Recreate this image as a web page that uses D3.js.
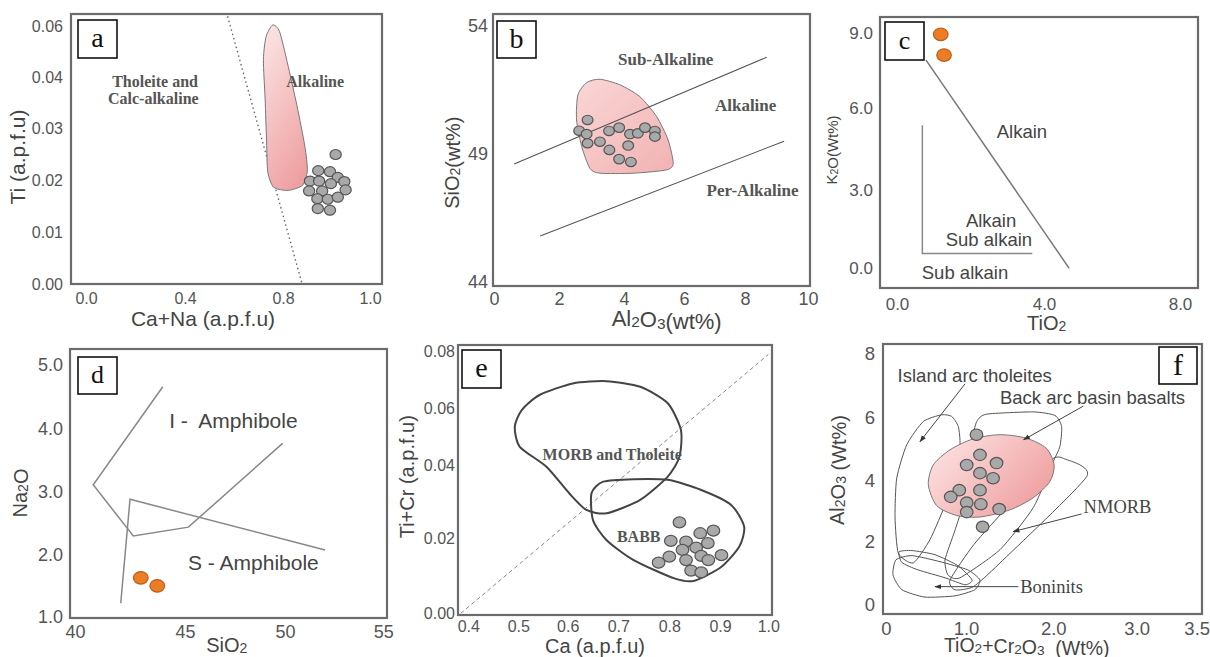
<!DOCTYPE html>
<html><head><meta charset="utf-8">
<script src="https://cdn.jsdelivr.net/npm/d3@7"></script>
<style>body{margin:0;background:#fff} text{white-space:pre}</style>
</head><body>
<script>
// ================= DATA =================
// ---- Panel a : Ti vs Ca+Na ----
const aXTicks=[0,0.4,0.8,1.0], aXLabels=["0.0","0.4","0.8","1.0"];
const aYTicks=[0,0.01,0.02,0.03,0.04,0.05], aYLabels=["0.00","0.01","0.02","0.03","0.04","0.06"];
const aSamples=[[0.921,0.0249],[0.881,0.0218],[0.908,0.0216],[0.862,0.0198],[0.883,0.0198],[0.926,0.0205],[0.910,0.0193],[0.941,0.0197],[0.860,0.0179],[0.890,0.0179],[0.944,0.0181],[0.879,0.0164],[0.903,0.0163],[0.926,0.0167],[0.880,0.0145],[0.908,0.0142]];
const aAlkalineField=[[0.758,0.0502],[0.731,0.0479],[0.720,0.0434],[0.727,0.0357],[0.733,0.0273],[0.738,0.0215],[0.762,0.0186],[0.812,0.0180],[0.845,0.0190],[0.856,0.0218],[0.850,0.0266],[0.832,0.0344],[0.810,0.0428],[0.786,0.0489]];
const aBoundary=[[0.574,0.0519],[0.844,0]];
const aText=[{t:"Tholeite and",x:0.279,y:0.0392},{t:"Calc-alkaline",x:0.272,y:0.0358},{t:"Alkaline",x:0.874,y:0.0391}];

// ---- Panel b : SiO2 vs Al2O3 ----
const bXTicks=[0,2,4,6,8,10], bXLabels=["0","2","4","6","8","10"];
const bYTicks=[44,49,54], bYLabels=["44","49","54"];
const bSamples=[[2.88,50.33],[2.62,49.91],[2.85,49.78],[2.88,49.42],[3.26,49.48],[3.54,49.90],[3.85,50.03],[3.55,49.16],[3.85,48.80],[4.23,48.69],[4.14,49.33],[4.20,49.78],[4.46,49.81],[4.70,50.03],[5.03,49.90],[5.03,49.68]];
const bField=[[2.58,51.30],[2.85,51.79],[3.26,51.92],[3.88,51.70],[4.53,51.24],[5.09,50.46],[5.47,49.55],[5.64,48.64],[5.42,48.38],[4.31,48.25],[3.26,48.25],[2.95,48.44],[2.70,49.29],[2.54,50.33]];
const bUpperLine=[[0.62,48.61],[8.69,52.78]];
const bLowerLine=[[1.42,45.80],[9.24,49.50]];
const bText=[{t:"Sub-Alkaline",x:5.39,y:52.70},{t:"Alkaline",x:8.02,y:50.91},{t:"Per-Alkaline",x:8.24,y:47.59}];

// ---- Panel c : K2O vs TiO2 ----
const cXTicks=[0,4,8], cXLabels=["0.0","4.0","8.0"];
const cYTicks=[0,3,6,9], cYLabels=["0.0","3.0","6.0","9.0"];
const cSamples=[[1.19,8.96],[1.28,8.13]];
const cDiagonal=[[0.79,7.93],[4.74,0.0]];
const cCorner=[[0.69,5.38],[0.69,0.57],[3.68,0.57]];
const cText=[{t:"Alkain",x:3.40,y:5.13},{t:"Alkain",x:2.56,y:1.82},{t:"Sub alkain",x:2.50,y:1.11},{t:"Sub alkain",x:1.85,y:-0.15}];

// ---- Panel d : Na2O vs SiO2 ----
const dXTicks=[40,45,50,55], dXLabels=["40","45","50","55"];
const dYTicks=[1,2,3,4,5], dYLabels=["1.0","2.0","3.0","4.0","5.0"];
const dSamples=[[42.99,1.63],[43.74,1.50]];
const dILine=[[43.99,4.66],[40.83,3.11],[42.65,2.30],[45.17,2.44],[49.88,3.77]];
const dSLine=[[42.08,1.22],[42.50,2.88],[52.04,2.08]];
const dText=[{t:"I -  Amphibole",x:47.42,y:4.13},{t:"S - Amphibole",x:48.42,y:1.88}];

// ---- Panel e : Ti+Cr vs Ca ----
const eXTicks=[0.4,0.5,0.6,0.7,0.8,0.9,1.0], eXLabels=["0.4","0.5","0.6","0.7","0.8","0.9","1.0"];
const eYTicks=[0,0.02,0.04,0.06,0.08], eYLabels=["0.00","0.02","0.04","0.06","0.08"];
const eSamples=[[0.820,0.0244],[0.803,0.0193],[0.833,0.0191],[0.861,0.0214],[0.887,0.0221],[0.876,0.0187],[0.853,0.0175],[0.826,0.0169],[0.800,0.0151],[0.779,0.0135],[0.833,0.0142],[0.863,0.0153],[0.877,0.0142],[0.903,0.0155],[0.843,0.0114],[0.863,0.0109]];
const eMorbField=[[0.493,0.0536],[0.507,0.0594],[0.543,0.0647],[0.610,0.0688],[0.677,0.0696],[0.743,0.0676],[0.797,0.0618],[0.823,0.0524],[0.820,0.0431],[0.797,0.0370],[0.743,0.0306],[0.677,0.0269],[0.637,0.0278],[0.603,0.0324],[0.557,0.0397],[0.503,0.0466]];
const eBabbField=[[0.647,0.0324],[0.670,0.0356],[0.730,0.0363],[0.797,0.0361],[0.863,0.0333],[0.923,0.0292],[0.950,0.0232],[0.940,0.0178],[0.903,0.0124],[0.850,0.0087],[0.810,0.0093],[0.730,0.0142],[0.677,0.0195],[0.650,0.0250]];
const eOneToOne=[[0.385,0.0],[1.0,0.079]];
const eText=[{t:"MORB and Tholeite",x:0.688,y:0.0440},{t:"BABB",x:0.740,y:0.0204}];

// ---- Panel f : Al2O3 vs TiO2+Cr2O3 ----
const fXTicks=[0,1,2,3,3.5], fXLabels=["0","1.0","2.0","3.0","3.5"];
const fYTicks=[0,2,4,6,8], fYLabels=["0","2","4","6","8"];
const fSamples=[[1.12,5.46],[1.16,4.82],[1.008,4.50],[1.35,4.56],[1.16,4.24],[1.31,4.08],[0.916,3.69],[0.809,3.47],[1.16,3.69],[1.008,3.28],[1.17,3.23],[1.38,3.07],[1.008,2.97],[1.19,2.49]];
const fSampleField=[[0.529,3.87],[0.591,4.50],[0.80,4.98],[1.084,5.33],[1.39,5.46],[1.69,5.35],[1.92,5.03],[2.01,4.50],[1.96,3.97],[1.77,3.44],[1.50,3.04],[1.16,2.81],[0.884,2.86],[0.634,3.18]];
const fIatField=[[0.341,1.33],[0.154,1.64],[0.113,2.81],[0.134,4.08],[0.259,5.14],[0.466,5.88],[0.696,6.09],[0.821,6.04],[0.904,5.72],[0.925,5.14],[0.863,4.29],[0.759,3.34],[0.55,2.07]];
const fBabbField=[[1.123,5.88],[1.237,6.11],[1.771,6.18],[2.02,6.07],[2.10,5.72],[2.08,5.09],[2.00,4.61],[1.771,3.12],[1.39,1.75],[0.925,0.86],[0.775,0.95],[0.738,1.43],[0.863,2.38],[1.046,3.97],[1.069,5.24]];
const fNmorbField=[[2.00,4.71],[2.12,4.71],[2.40,4.13],[1.39,1.33],[1.084,0.58],[0.863,0.48],[0.80,0.79],[1.09,1.91],[1.49,3.18],[1.84,4.13]];
const fBoniniteField=[[0.125,1.43],[0.0875,0.95],[0.20,0.48],[0.4875,0.25],[0.8625,0.29],[1.10,0.48],[1.16,0.79],[1.02,1.11],[0.675,1.37],[0.325,1.56]];
const fBoniniteField2=[[0.1625,1.68],[0.325,1.72],[0.6125,1.59],[0.90,1.24],[1.07,0.79],[0.9875,0.64],[0.7375,0.86],[0.40,1.11],[0.20,1.34]];
const fArrows=[[[0.9875,7.05],[0.425,5.24]],[[2.36,6.36],[1.66,5.30]],[[2.34,2.91],[1.54,2.33]],[[1.60,0.58],[0.6125,0.58]]];
const fText=[{t:"Island arc tholeites",x:1.10,y:7.31,serif:false},{t:"Back arc basin basalts",x:2.47,y:6.64,serif:false},{t:"NMORB",x:2.77,y:3.16,serif:true},{t:"Boninits",x:1.98,y:0.58,serif:true}];

// ================= DRAWING =================
const SANS="'Liberation Sans', Arial, sans-serif";
const SERIF="'Liberation Serif', 'Times New Roman', serif";
const svg=d3.select("body").append("svg").attr("width",1210).attr("height",657);
const defs=svg.append("defs");
function grad(id,x1,y1,x2,y2,c1,c2){
  const g=defs.append("linearGradient").attr("id",id).attr("x1",x1).attr("y1",y1).attr("x2",x2).attr("y2",y2);
  g.append("stop").attr("offset","0%").attr("stop-color",c1);
  g.append("stop").attr("offset","100%").attr("stop-color",c2);
}
grad("gA",0.3,0,0.7,1,"#fbe0e0","#ee9fa0");
grad("gB",0,0,1,1,"#fad6d6","#f2b2b2");
grad("gF",0,0.2,1,0.8,"#fde2e2","#ee9a9b");
defs.append("marker").attr("id","arr").attr("viewBox","0 0 10 10").attr("refX",9).attr("refY",5)
  .attr("markerWidth",7).attr("markerHeight",7).attr("orient","auto")
  .append("path").attr("d","M0,1.5L10,5L0,8.5Z").attr("fill","#333");

function richText(sel,str){
  // '_' marks a subscript digit
  const parts=str.split(/(_\d)/).filter(s=>s.length);
  parts.forEach(p=>{
    if(p[0]==="_"){ sel.append("tspan").attr("font-size","70%").attr("dy","0.08em").text(p[1]);
      sel.append("tspan").attr("dy","-0.056em").text(""); }
    else sel.append("tspan").text(p);
  });
}

function panel(c){
  const g=svg.append("g");
  const x=d3.scaleLinear().domain(c.xTicks).range(c.xPx);
  const y=d3.scaleLinear().domain(c.yTicks).range(c.yPx);
  const [fx0,fy0,fx1,fy1]=c.frame;
  g.append("rect").attr("x",fx0).attr("y",fy0).attr("width",fx1-fx0).attr("height",fy1-fy0)
    .attr("fill","none").attr("stroke","#6b6b6b").attr("stroke-width",2.2);
  const xa=d3.axisBottom(x).tickValues(c.xTicks).tickFormat((d,i)=>c.xLabels[i]).tickSize(0).tickPadding(c.xPad);
  const ya=d3.axisLeft(y).tickValues(c.yTicks).tickFormat((d,i)=>c.yLabels[i]).tickSize(0).tickPadding(c.yPad);
  [[xa,`translate(0,${fy1})`],[ya,`translate(${fx0},0)`]].forEach(([ax,tr])=>{
    g.append("g").attr("transform",tr).call(ax)
     .attr("font-family",SANS).attr("font-size",c.fs)
     .call(s=>{s.select(".domain").remove(); s.selectAll("text").attr("fill","#555");});
  });
  const xt=g.append("text").attr("x",c.xTitle[1]).attr("y",c.xTitle[2]).attr("dy","0.36em")
    .attr("text-anchor","middle").attr("font-family",SANS).attr("font-size",c.xTitle[3]).attr("fill","#444");
  richText(xt,c.xTitle[0]);
  const yt=g.append("text").attr("transform",`translate(${c.yTitle[1]},${c.yTitle[2]}) rotate(-90)`).attr("dy","0.36em")
    .attr("text-anchor","middle").attr("font-family",SANS).attr("font-size",c.yTitle[3]).attr("fill","#444");
  richText(yt,c.yTitle[0]);
  return {g,x,y,box:c.box,letter:c.letter};
}
function letterBox(p,fs){
  const [x0,y0,x1,y1]=p.box;
  p.g.append("rect").attr("x",x0).attr("y",y0).attr("width",x1-x0).attr("height",y1-y0)
    .attr("fill","#fff").attr("stroke","#111").attr("stroke-width",1.6);
  p.g.append("text").attr("x",(x0+x1)/2).attr("y",(y0+y1)/2).attr("dy","0.3em").attr("text-anchor","middle")
    .attr("font-family",SERIF).attr("font-size",fs).attr("fill","#111").text(p.letter);
}
const lineGen=(p,curve)=>d3.line().x(d=>p.x(d[0])).y(d=>p.y(d[1])).curve(curve||d3.curveLinear);
function labels(p,arr,font,fs,fill,weight){
  p.g.selectAll(null).data(arr).join("text").attr("x",d=>p.x(d.x)).attr("y",d=>p.y(d.y)).attr("dy","0.35em")
    .attr("text-anchor",d=>d.anchor||"middle").attr("font-family",d=>d.serif===undefined?font:(d.serif?SERIF:SANS))
    .attr("font-size",fs).attr("font-weight",weight||"normal").attr("fill",fill).text(d=>d.t);
}
function dots(p,arr,rx,ry,fill,stroke,sw){
  p.g.selectAll(null).data(arr).join("ellipse").attr("cx",d=>p.x(d[0])).attr("cy",d=>p.y(d[1]))
    .attr("rx",rx).attr("ry",ry).attr("fill",fill).attr("stroke",stroke).attr("stroke-width",sw||1.2);
}
const GRAY="#a9a9a9", GRAYS="#555", OR="#ed7d24", ORS="#b8601c";

// ---- a ----
const pa=panel({frame:[71,14,382,284],xTicks:aXTicks,xLabels:aXLabels,xPx:[86,185,283,370],
  yTicks:aYTicks,yLabels:aYLabels,yPx:[284,232,180,128,77,26],fs:16,xPad:9,yPad:8,
  xTitle:["Ca+Na (a.p.f.u)",203,318,21],yTitle:["Ti (a.p.f.u)",17,157,21],box:[78,20,117,58],letter:"a"});
pa.g.append("path").attr("d",lineGen(pa)(aBoundary)).attr("stroke","#666").attr("stroke-width",1.4).attr("stroke-dasharray","1.5,3").attr("fill","none");
pa.g.append("path").attr("d",lineGen(pa,d3.curveCardinalClosed.tension(0.3))(aAlkalineField)).attr("fill","url(#gA)").attr("stroke","#777").attr("stroke-width",1);
labels(pa,aText,SERIF,16,"#555","bold");
dots(pa,aSamples,5.6,5,GRAY,GRAYS);
letterBox(pa,28);

// ---- b ----
const pb=panel({frame:[493,14,810,286],xTicks:bXTicks,xLabels:bXLabels,xPx:[494,559,624,684,745,808],
  yTicks:bYTicks,yLabels:bYLabels,yPx:[282,154,26],fs:18,xPad:6,yPad:5,
  xTitle:["Al_2O_3(wt%)",666.7,318.3,22],yTitle:["SiO_2(wt%)",451.7,162.7,20],box:[497,21,536,58],letter:"b"});
pb.g.append("path").attr("d",lineGen(pb,d3.curveCardinalClosed.tension(0.3))(bField)).attr("fill","url(#gB)").attr("stroke","#777").attr("stroke-width",1);
[bUpperLine,bLowerLine].forEach(l=>pb.g.append("path").attr("d",lineGen(pb)(l)).attr("stroke","#555").attr("stroke-width",1.1).attr("fill","none"));
labels(pb,bText,SERIF,17,"#555","bold");
dots(pb,bSamples,5.4,4.7,GRAY,GRAYS);
letterBox(pb,28);

// ---- c ----
const pc=panel({frame:[880,17,1198,288],xTicks:cXTicks,xLabels:cXLabels,xPx:[897,1044,1180],
  yTicks:cYTicks,yLabels:cYLabels,yPx:[268.3,190,108.3,33.3],fs:17,xPad:10,yPad:7,
  xTitle:["TiO_2",1046.7,322.5,20],yTitle:["K_2O(Wt%)",831.7,150,15],box:[885,22,924,60],letter:"c"});
pc.g.append("path").attr("d",lineGen(pc)(cDiagonal)).attr("stroke","#777").attr("stroke-width",1.5).attr("fill","none");
pc.g.append("path").attr("d",lineGen(pc)(cCorner)).attr("stroke","#888").attr("stroke-width",1.5).attr("fill","none");
labels(pc,cText,SANS,18.5,"#444");
dots(pc,cSamples,7.3,6.3,OR,ORS);
letterBox(pc,26);

// ---- d ----
const pd=panel({frame:[70,349,387,618],xTicks:dXTicks,xLabels:dXLabels,xPx:[75,185,285,383.3],
  yTicks:dYTicks,yLabels:dYLabels,yPx:[616.7,555,491.7,429,365],fs:18,xPad:7.5,yPad:7,
  xTitle:["SiO_2",226.7,645,20],yTitle:["Na_2O",20,493,20],box:[78,357,117,394],letter:"d"});
[dILine,dSLine].forEach(l=>pd.g.append("path").attr("d",lineGen(pd)(l)).attr("stroke","#888").attr("stroke-width",1.5).attr("fill","none"));
labels(pd,dText,SANS,21,"#444");
dots(pd,dSamples,7.4,6.3,OR,ORS);
letterBox(pd,26);

// ---- e ----
const pe=panel({frame:[458,345,772,615],xTicks:eXTicks,xLabels:eXLabels,xPx:[468.3,518.3,567.7,618.3,669.3,720,768.3],
  yTicks:eYTicks,yLabels:eYLabels,yPx:[613.3,538.3,465.7,408.3,351.7],fs:16,xPad:6,yPad:3,
  xTitle:["Ca (a.p.f.u)",595,645.5,20],yTitle:["Ti+Cr (a.p.f.u)",406.7,476.7,20],box:[462,350,501,388],letter:"e"});
pe.g.append("path").attr("d",lineGen(pe)(eOneToOne)).attr("stroke","#888").attr("stroke-width",1).attr("stroke-dasharray","4,3").attr("fill","none");
[eMorbField,eBabbField].forEach(f=>pe.g.append("path").attr("d",lineGen(pe,d3.curveCardinalClosed.tension(0.3))(f)).attr("fill","none").attr("stroke","#444").attr("stroke-width",2));
labels(pe,eText,SERIF,16,"#555","bold");
dots(pe,eSamples,6.3,5.5,GRAY,GRAYS);
letterBox(pe,28);

// ---- f ----
const pf=panel({frame:[883,344,1202,614],xTicks:fXTicks,xLabels:fXLabels,xPx:[886,966,1053.3,1136.7,1196.7],
  yTicks:fYTicks,yLabels:fYLabels,yPx:[605,541.7,480.7,417.7,353.3],fs:18.5,xPad:8,yPad:8,
  xTitle:["TiO_2+Cr_2O_3  (Wt%)",1026.7,644.5,19.5],yTitle:["Al_2O_3 (Wt%)",836.7,470,20],box:[1159,347,1197,384],letter:"f"});
[fIatField,fBabbField,fNmorbField,fBoniniteField,fBoniniteField2].forEach(f=>pf.g.append("path")
  .attr("d",lineGen(pf,d3.curveCardinalClosed.tension(0.4))(f)).attr("fill","none").attr("stroke","#555").attr("stroke-width",1));
pf.g.append("path").attr("d",lineGen(pf,d3.curveCardinalClosed.tension(0.2))(fSampleField)).attr("fill","url(#gF)").attr("stroke","#777").attr("stroke-width",1);
fArrows.forEach(a=>pf.g.append("path").attr("d",lineGen(pf)(a)).attr("stroke","#444").attr("stroke-width",1).attr("fill","none").attr("marker-end","url(#arr)"));
labels(pf,fText,SANS,18.5,"#444");
dots(pf,fSamples,6.3,5.7,GRAY,GRAYS);
letterBox(pf,30);
</script>
</body></html>
